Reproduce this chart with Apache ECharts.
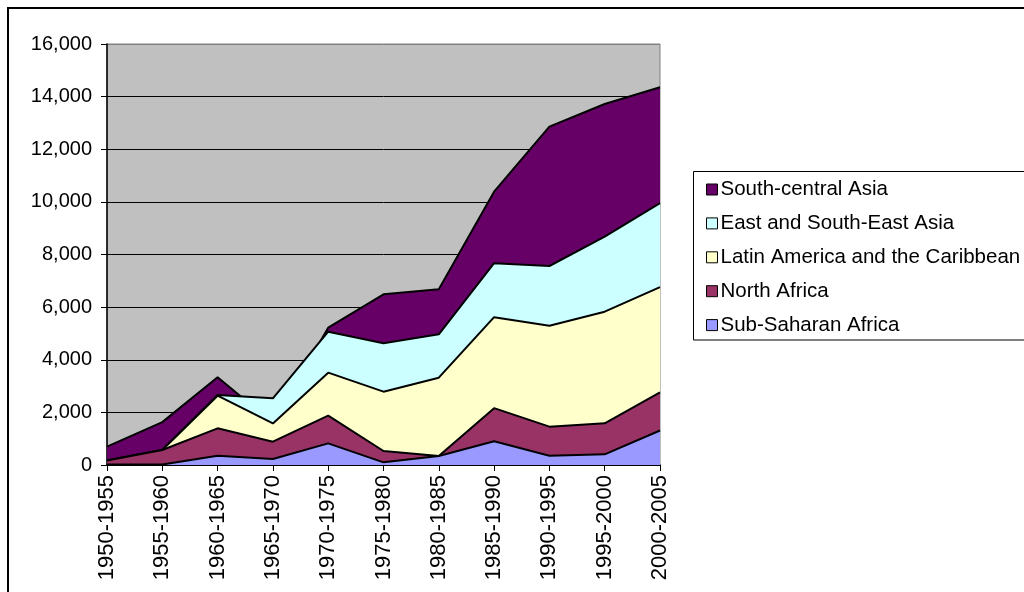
<!DOCTYPE html>
<html>
<head>
<meta charset="utf-8">
<script src="https://cdn.jsdelivr.net/npm/echarts@6/dist/echarts.min.js"></script>
<style>
  html, body { margin: 0; padding: 0; background: #ffffff; }
  #chart { width: 1024px; height: 592px; }
</style>
</head>
<body>
<div id="chart"></div>
<script>
// Categories (5-year periods)
const categories = ['1950-1955', '1955-1960', '1960-1965', '1965-1970', '1970-1975',
  '1975-1980', '1980-1985', '1985-1990', '1990-1995', '1995-2000', '2000-2005'];

// Series values (stacked in this order, bottom to top)
const subSaharanAfrica = [20, 20, 355, 228, 823, 101, 342, 900, 355, 405, 1310];
const northAfrica = [150, 550, 1038, 659, 1052, 431, 0, 1260, 1102, 1179, 1450];
const latinAmerica = [0, 0, 1242, 693, 1634, 2255, 2977, 3458, 3838, 4243, 3998];
const eastSouthEastAsia = [0, 0, 25, 954, 1558, 1837, 1647, 2052, 2268, 2851, 3192];
const southCentralAsia = [527, 1060, 672, -934, 152, 1862, 1710, 2717, 5295, 5041, 4408];

// Y axis ticks
const yTicks = [0, 2000, 4000, 6000, 8000, 10000, 12000, 14000, 16000];

const seriesNames = ['Sub-Saharan Africa', 'North Africa', 'Latin America and the Caribbean',
  'East and South-East Asia', 'South-central Asia'];
const seriesValues = [subSaharanAfrica, northAfrica, latinAmerica, eastSouthEastAsia, southCentralAsia];
const seriesColors = ['#9999FF', '#993366', '#FFFFCC', '#CCFFFF', '#660066'];

// cumulative sums (Excel-style stacked area, each area filled down to zero)
const cumulative = [];
let running = categories.map(() => 0);
seriesValues.forEach(vals => {
  running = running.map((r, i) => r + vals[i]);
  cumulative.push(running.slice());
});

const FONT = '"Liberation Sans", Arial, sans-serif';

// build series: topmost stack drawn first (back), bottom stack last (front)
const series = [];
for (let k = seriesNames.length - 1; k >= 0; k--) {
  series.push({
    name: seriesNames[k],
    type: 'line',
    data: cumulative[k],
    z: 2 + (seriesNames.length - 1 - k),
    showSymbol: false,
    symbol: 'none',
    itemStyle: { color: seriesColors[k] },
    lineStyle: { color: '#000000', width: 2 },
    areaStyle: { color: seriesColors[k], opacity: 1, origin: 'start' },
    emphasis: { disabled: true },
    silent: true
  });
}

const splitColors = yTicks.map((v, i) => i === yTicks.length - 1 ? '#808080' : '#000000');

const chart = echarts.init(document.getElementById('chart'), null, { renderer: 'canvas' });
chart.setOption({
  animation: false,
  backgroundColor: '#ffffff',
  textStyle: { fontFamily: FONT },
  graphic: [
    {
      type: 'rect', z: 0,
      shape: { x: 8, y: 8, width: 1100, height: 700 },
      style: { fill: 'none', stroke: '#000000', lineWidth: 2 }
    },
    {
      type: 'rect', z: 0,
      shape: { x: 693.5, y: 171.5, width: 400, height: 168.5 },
      style: { fill: '#ffffff', stroke: '#000000', lineWidth: 1 }
    }
  ],
  grid: {
    left: 107, right: 364, top: 44, bottom: 127,
    show: true, backgroundColor: '#C0C0C0', borderColor: '#808080', borderWidth: 1,
    containLabel: false
  },
  legend: {
    orient: 'vertical',
    left: 701, top: 174,
    icon: 'rect',
    itemWidth: 11, itemHeight: 11,
    itemGap: 12.9,
    data: seriesNames.slice().reverse(),
    itemStyle: { borderColor: '#000000', borderWidth: 1 },
    textStyle: { fontFamily: FONT, fontSize: 20.5, color: '#000000', lineHeight: 20, padding: [0, 0, 0, -2] },
    selectedMode: false
  },
  xAxis: {
    type: 'category',
    data: categories,
    boundaryGap: false,
    axisLine: { lineStyle: { color: '#000000', width: 1.5 } },
    axisTick: { show: true, length: 6, lineStyle: { color: '#000000' } },
    axisLabel: { rotate: 90, fontFamily: FONT, fontSize: 22, color: '#000000', margin: 10, interval: 0 },
    splitLine: { show: false }
  },
  yAxis: {
    type: 'value',
    min: 0, max: 16000, interval: 2000,
    axisLine: { show: true, lineStyle: { color: '#000000', width: 1.5 } },
    axisTick: { show: true, length: 6, lineStyle: { color: '#000000' } },
    axisLabel: {
      fontFamily: FONT, fontSize: 20, color: '#000000', margin: 15,
      formatter: v => v.toLocaleString('en-US')
    },
    splitLine: { show: true, lineStyle: { color: splitColors, width: 1 } }
  },
  series: series
});
</script>
</body>
</html>
